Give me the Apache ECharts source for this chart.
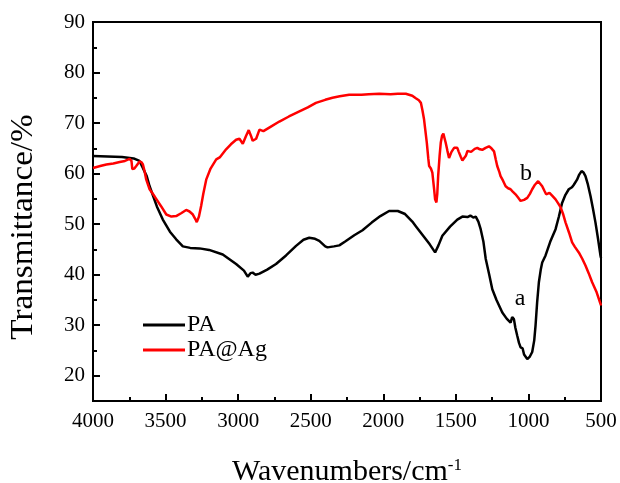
<!DOCTYPE html>
<html><head><meta charset="utf-8">
<script src="https://cdn.jsdelivr.net/npm/echarts@6/dist/echarts.min.js"></script>
<style>html,body{margin:0;padding:0;background:#fff}#c{width:620px;height:483px}</style>
</head><body><div id="c"></div>
<script>
const xTicks = [500, 1000, 1500, 2000, 2500, 3000, 3500, 4000];
const yTicks = [20, 30, 40, 50, 60, 70, 80, 90];
const yMinorTicks = [25, 35, 45, 55, 65, 75, 85];
const seriesNames = ['PA', 'PA@Ag'];
const paWave = [4000,3900,3800,3720,3680,3658,3630,3610,3560,3519,3470,3427,3381,3330,3266,3200,3106,3014,2960,2934,2915,2900,2880,2853,2800,2739,2670,2601,2550,2510,2470,2441,2400,2384,2340,2303,2260,2200,2143,2080,2020,1960,1900,1850,1800,1776,1720,1680,1643,1620,1593,1540,1490,1455,1420,1400,1380,1363,1345,1329,1310,1294,1270,1249,1220,1180,1150,1123,1112,1100,1090,1077,1065,1054,1040,1030,1008,990,974,960,951,940,928,915,905,882,850,813,790,768,745,722,700,687,665,650,634,620,607,590,572,555,538,520,503,500];
const paT = [63.5,63.4,63.3,63.0,62.5,61.2,59.5,57.5,53.5,50.9,48.5,47.0,45.6,45.3,45.2,44.9,44.0,42.1,40.8,39.6,40.3,40.4,40.0,40.2,41.0,42.1,43.8,45.7,46.9,47.3,47.1,46.7,45.6,45.4,45.6,45.8,46.6,47.8,48.8,50.3,51.6,52.6,52.6,52.0,50.5,49.6,47.5,46.0,44.4,45.8,47.7,49.5,50.9,51.5,51.4,51.7,51.3,51.5,50.5,49.0,46.5,43.1,40.0,37.1,35.0,32.5,31.3,30.5,31.6,31.2,29.5,27.9,26.5,25.6,25.4,24.2,23.3,23.8,24.7,27.0,29.9,34.5,38.5,41.0,42.4,43.8,46.5,49.0,51.5,54.2,55.8,56.9,57.3,57.8,58.8,59.8,60.5,60.2,59.5,57.8,55.5,53.0,50.3,47.0,43.7,43.3];
const agWave = [4000,3950,3908,3860,3816,3780,3748,3735,3729,3715,3702,3679,3665,3656,3645,3633,3610,3576,3564,3530,3495,3460,3427,3390,3358,3335,3312,3295,3285,3270,3255,3240,3220,3190,3151,3127,3083,3050,3014,2991,2968,2945,2927,2912,2900,2876,2853,2826,2780,2716,2650,2578,2520,2464,2400,2350,2300,2235,2150,2100,2028,1950,1900,1845,1800,1776,1755,1741,1730,1719,1710,1700,1690,1684,1672,1662,1650,1643,1634,1628,1622,1612,1604,1595,1586,1578,1570,1558,1547,1530,1512,1490,1480,1467,1455,1444,1430,1420,1409,1395,1386,1370,1352,1335,1318,1295,1272,1255,1237,1225,1215,1200,1192,1175,1157,1140,1123,1110,1089,1070,1054,1030,1008,990,974,955,933,920,905,890,878,865,855,835,813,795,778,760,744,720,699,680,653,630,607,585,561,530,503,500];
const agT = [61.1,61.5,61.8,62.0,62.3,62.5,62.9,62.5,60.9,61.0,61.5,62.4,62.2,61.8,60.5,58.8,56.9,55.5,55.2,53.5,51.9,51.5,51.6,52.2,52.8,52.5,51.9,51.0,50.4,51.5,53.6,56.0,58.8,61.0,62.8,63.2,64.8,65.8,66.7,66.9,65.9,67.5,68.6,67.5,66.5,66.9,68.7,68.4,69.2,70.3,71.3,72.3,73.1,74.0,74.6,75.0,75.3,75.6,75.6,75.7,75.8,75.7,75.8,75.8,75.4,74.9,74.5,74.0,72.5,70.7,68.5,66.1,63.0,61.5,61.0,60.2,57.0,54.9,54.3,56.0,59.5,63.5,66.1,67.5,67.9,67.0,66.1,64.5,63.1,64.3,65.1,65.1,64.3,63.4,62.6,62.3,63.6,64.5,64.7,64.3,64.4,64.9,65.1,64.8,64.7,65.1,65.4,65.0,64.4,62.8,61.5,60.3,59.5,58.6,57.5,57.1,56.9,56.5,55.9,55.2,54.6,54.8,55.2,56.0,56.9,57.8,58.5,58.2,57.5,56.6,55.9,56.2,56.2,55.6,54.9,54.1,53.3,51.9,50.3,48.3,46.4,45.5,44.4,43.2,41.8,40.3,38.5,36.5,34.2,33.9];
const labelA = {text: 'a', wave: 1058, t: 35.3};
const labelB = {text: 'b', wave: 1017, t: 60.0};

const FONT = '"Liberation Serif","Times New Roman",serif';
const chart = echarts.init(document.getElementById('c'), null, {renderer: 'canvas'});
const zip = (a, b) => a.map((v, i) => [v, b[i]]);
function mk(lbl) {
  return {
    symbol: 'circle', symbolSize: 0, silent: true,
    data: [{coord: [lbl.wave, lbl.t], value: lbl.text}],
    label: {show: true, position: 'inside', formatter: lbl.text, color: '#000', fontFamily: FONT, fontSize: 24}
  };
}
chart.setOption({
  animation: false,
  backgroundColor: '#fff',
  grid: {left: 93, right: 19, top: 22, bottom: 82, outerBoundsMode: 'none', containLabel: false,
    show: true, borderColor: '#000', borderWidth: 2, backgroundColor: 'transparent'},
  legend: {
    orient: 'vertical', left: 143, top: 313, padding: 0, itemWidth: 42, itemHeight: 3, itemGap: 1, icon: 'rect',
    textStyle: {fontFamily: FONT, fontSize: 24, color: '#000', lineHeight: 24, padding: [0, 0, 0, -3]},
    data: seriesNames
  },
  xAxis: {
    type: 'value', inverse: true, min: xTicks[0], max: xTicks[xTicks.length - 1], interval: 500,
    axisLine: {lineStyle: {color: '#000', width: 2}},
    axisTick: {inside: true, length: 7, lineStyle: {color: '#000', width: 2}},
    minorTick: {show: true, splitNumber: 2, length: 4, lineStyle: {color: '#000', width: 2}},
    splitLine: {show: false},
    axisLabel: {fontFamily: FONT, fontSize: 21, color: '#000', margin: 10, formatter: v => String(v)},
    name: 'Wavenumbers/cm{sup|-1}', nameLocation: 'middle', nameGap: 56,
    nameTextStyle: {fontFamily: FONT, fontSize: 30, color: '#000',
      rich: {sup: {fontFamily: FONT, fontSize: 17, color: '#000', verticalAlign: 'top', padding: [0, 0, 14, 0]}}}
  },
  yAxis: [{
    type: 'value', min: 15, max: yTicks[yTicks.length - 1],
    axisLine: {lineStyle: {color: '#000', width: 2}},
    axisTick: {inside: true, length: 7, lineStyle: {color: '#000', width: 2}, customValues: yTicks},
    splitLine: {show: false},
    axisLabel: {fontFamily: FONT, fontSize: 21, color: '#000', margin: 8, customValues: yTicks}
  }, {
    type: 'value', min: 15, max: yTicks[yTicks.length - 1], position: 'left',
    axisLine: {show: false},
    axisTick: {show: true, inside: true, length: 4, lineStyle: {color: '#000', width: 2}, customValues: yMinorTicks},
    splitLine: {show: false}, axisLabel: {show: false}
  }],
  graphic: [{
    type: 'text', x: 24, y: 227, rotation: Math.PI / 2, scaleX: 1.07,
    style: {text: 'Transmittance/%', font: '31px ' + FONT, fill: '#000', align: 'center', verticalAlign: 'middle'}
  }],
  series: [{
    name: seriesNames[0], type: 'line', data: zip(paWave, paT), showSymbol: false, symbol: 'none',
    lineStyle: {color: '#000', width: 2.5}, itemStyle: {color: '#000'}, markPoint: mk(labelA)
  }, {
    name: seriesNames[1], type: 'line', data: zip(agWave, agT), showSymbol: false, symbol: 'none',
    lineStyle: {color: '#ff0000', width: 2.5}, itemStyle: {color: '#ff0000'}, markPoint: mk(labelB)
  }]
});
</script></body></html>
